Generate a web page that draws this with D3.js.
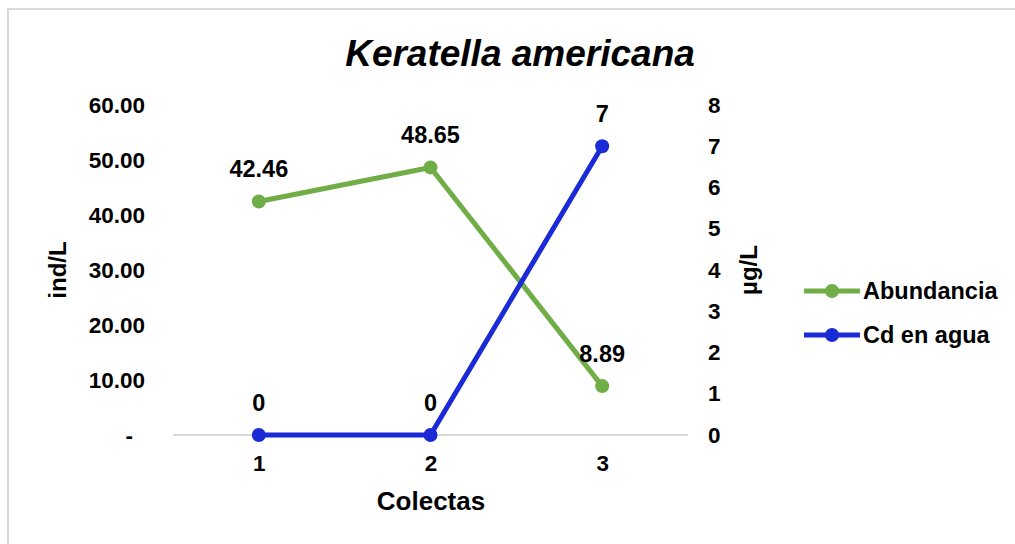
<!DOCTYPE html>
<html>
<head>
<meta charset="utf-8">
<script src="https://cdn.jsdelivr.net/npm/d3@7"></script>
<style>
  body { margin: 0; background: #fff; }
  svg { display: block; font-family: "Liberation Sans", Arial, sans-serif; font-weight: bold; }
</style>
</head>
<body>
<div id="chart"></div>
<script>
const categories = ["1", "2", "3"];
const abundancia = [42.46, 48.65, 8.89];
const cdAgua = [0, 0, 7];
const leftTicks = [0, 10, 20, 30, 40, 50, 60];
const rightTicks = [0, 1, 2, 3, 4, 5, 6, 7, 8];
const seriesNames = ["Abundancia", "Cd en agua"];

const width = 1015, height = 544;
const green = "#70ad47", blue = "#1a2ad6";

var svg = d3.select("#chart").append("svg")
  .attr("width", width).attr("height", height);

// chart border (runs off the right/bottom edge)
svg.append("rect")
  .attr("x", 8).attr("y", 9)
  .attr("width", 1100).attr("height", 600)
  .attr("fill", "none").attr("stroke", "#d9d9d9").attr("stroke-width", 2);

var plot = { left: 173, right: 688, top: 105, bottom: 435 };

var x = d3.scalePoint().domain(categories)
  .range([plot.left, plot.right]).padding(0.5);
var yL = d3.scaleLinear().domain([0, 60]).range([plot.bottom, plot.top]);
var yR = d3.scaleLinear().domain([0, 8]).range([plot.bottom, plot.top]);

// title
svg.append("text")
  .attr("x", 520).attr("y", 66)
  .attr("text-anchor", "middle")
  .style("font-size", "37px").style("font-style", "italic")
  .text("Keratella americana");

// baseline
svg.append("line")
  .attr("x1", plot.left).attr("x2", plot.right)
  .attr("y1", yL(0)).attr("y2", yL(0))
  .attr("stroke", "#d9d9d9").attr("stroke-width", 2);

// left axis
var leftAxis = d3.axisLeft(yL).tickValues(leftTicks).tickSize(0).tickPadding(0)
  .tickFormat(d => d === 0 ? "-" : d3.format(".2f")(d));
var gL = svg.append("g").attr("transform", "translate(145,0)").call(leftAxis);
gL.select(".domain").remove();
gL.selectAll("text").style("font-size", "22.5px").attr("fill", "#000")
  .attr("font-family", null)
  .attr("dx", d => d === 0 ? -12 : 0);

// right axis
var rightAxis = d3.axisRight(yR).tickValues(rightTicks).tickSize(0).tickPadding(0);
var gR = svg.append("g").attr("transform", "translate(708,0)").call(rightAxis);
gR.select(".domain").remove();
gR.selectAll("text").style("font-size", "22.5px").attr("fill", "#000")
  .attr("font-family", null);

// bottom axis
var bottomAxis = d3.axisBottom(x).tickSize(0).tickPadding(0);
var gB = svg.append("g").attr("transform", "translate(0,455)").call(bottomAxis);
gB.select(".domain").remove();
gB.selectAll("text").style("font-size", "22.5px").attr("fill", "#000")
  .attr("font-family", null);

// axis titles
svg.append("text")
  .attr("transform", "translate(66,270) rotate(-90)")
  .attr("text-anchor", "middle")
  .style("font-size", "24px")
  .text("ind/L");

svg.append("text")
  .attr("transform", "translate(757,270) rotate(-90)")
  .attr("text-anchor", "middle")
  .style("font-size", "24px")
  .text("µg/L");

svg.append("text")
  .attr("x", 431).attr("y", 510)
  .attr("text-anchor", "middle")
  .style("font-size", "26px")
  .text("Colectas");

// series
var series = [
  { name: seriesNames[0], values: abundancia, y: yL, color: green, fmt: d3.format(".2f") },
  { name: seriesNames[1], values: cdAgua, y: yR, color: blue, fmt: d => d }
];

series.forEach(function (s) {
  var pts = categories.map((c, i) => ({ c: c, v: s.values[i] }));
  var line = d3.line().x(d => x(d.c)).y(d => s.y(d.v));

  svg.append("path")
    .datum(pts)
    .attr("d", line)
    .attr("fill", "none")
    .attr("stroke", s.color)
    .attr("stroke-width", 5)
    .attr("stroke-linejoin", "round");

  svg.append("g").selectAll("circle")
    .data(pts)
    .enter()
    .append("circle")
    .attr("cx", d => x(d.c))
    .attr("cy", d => s.y(d.v))
    .attr("r", 7)
    .attr("fill", s.color);

  svg.append("g").selectAll("text")
    .data(pts)
    .enter()
    .append("text")
    .attr("x", d => x(d.c))
    .attr("y", d => s.y(d.v) - 24)
    .attr("text-anchor", "middle")
    .style("font-size", "23.5px")
    .text(d => s.fmt(d.v));
});

// legend
var legend = svg.append("g").attr("transform", "translate(804,291)");
var items = legend.selectAll("g")
  .data(series)
  .enter()
  .append("g")
  .attr("transform", (d, i) => "translate(0," + i * 44 + ")");

items.append("line")
  .attr("x1", 0).attr("x2", 56)
  .attr("stroke", d => d.color).attr("stroke-width", 5);
items.append("circle")
  .attr("cx", 28).attr("r", 7)
  .attr("fill", d => d.color);
items.append("text")
  .attr("x", 59).attr("dy", "0.35em")
  .style("font-size", "23.5px")
  .text(d => d.name);
</script>
</body>
</html>
